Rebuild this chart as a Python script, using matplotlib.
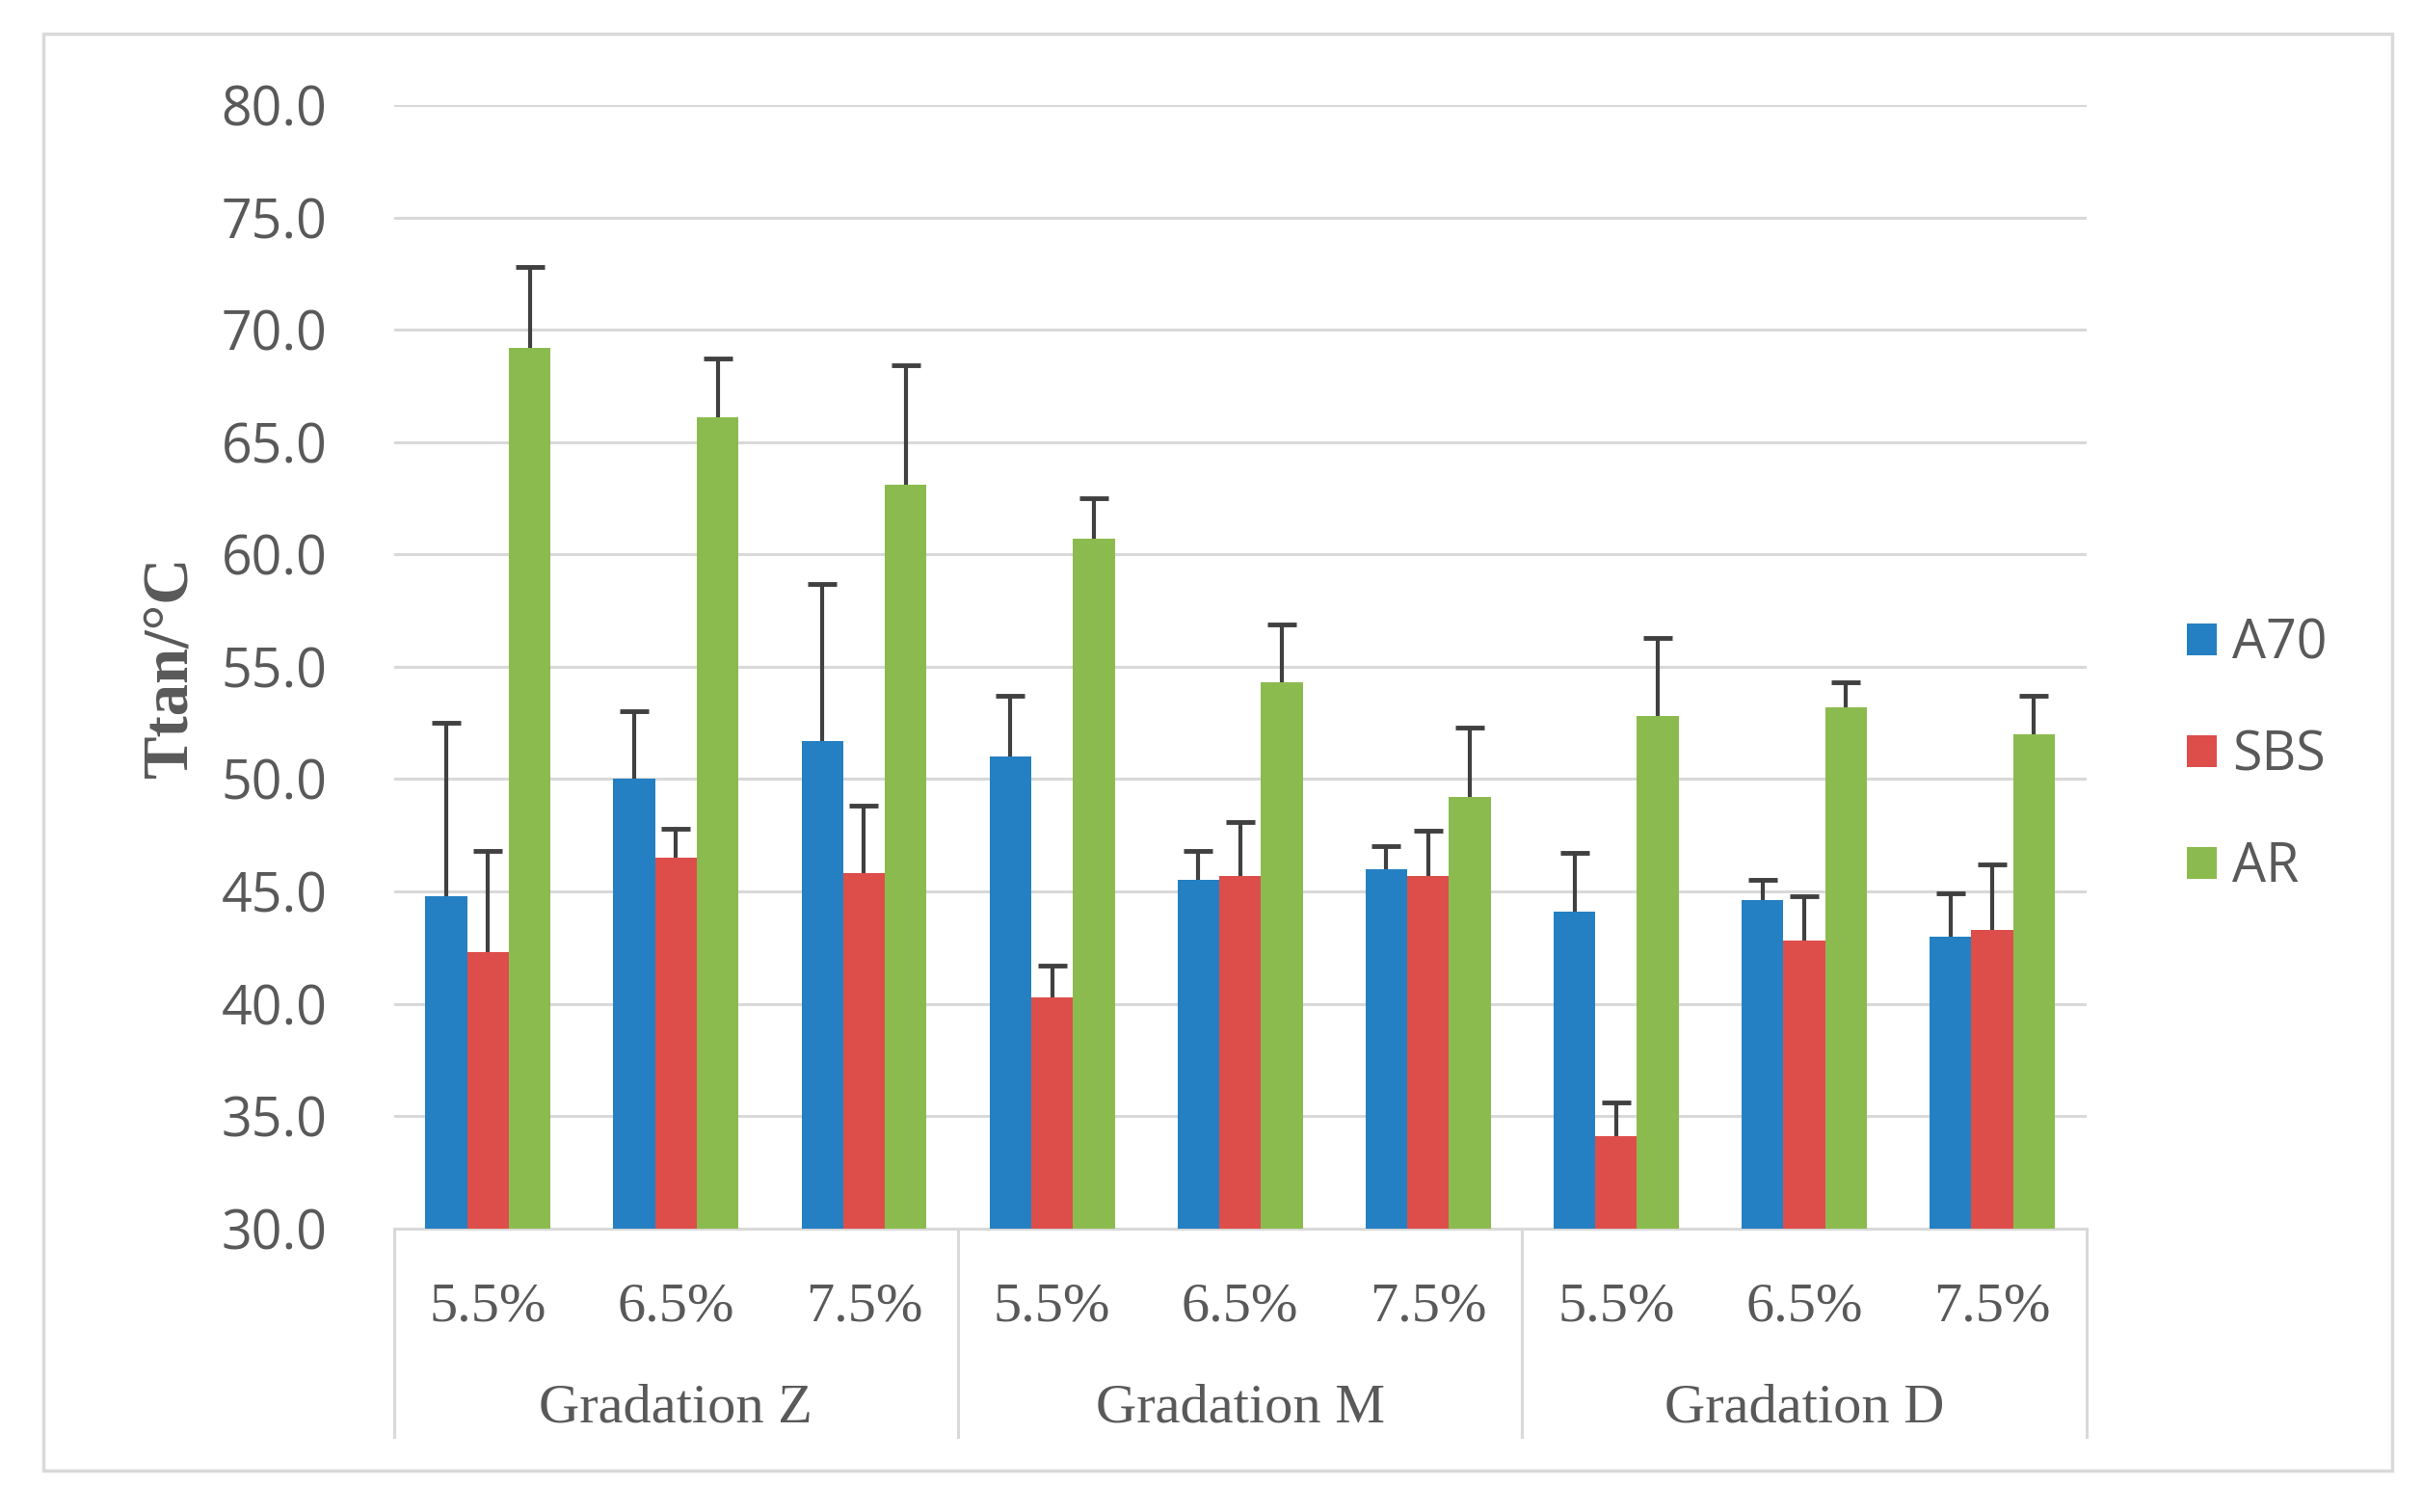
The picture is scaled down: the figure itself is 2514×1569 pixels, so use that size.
import matplotlib
matplotlib.use('Agg')
import matplotlib.pyplot as plt
from matplotlib.patches import Rectangle, Patch
import numpy as np

# values
groups = ["Gradation Z", "Gradation M", "Gradation D"]
contents = ["5.5%", "6.5%", "7.5%"]
series = ["A70", "SBS", "AR"]

a70 = [44.8, 50.0, 51.7, 51.0, 45.5, 46.0, 44.1, 44.6, 43.0]
sbs = [42.3, 46.5, 45.8, 40.3, 45.7, 45.7, 34.1, 42.8, 43.3]
ar = [69.2, 66.1, 63.1, 60.7, 54.3, 49.2, 52.8, 53.2, 52.0]

# upper error bar tops
a70_top = [52.5, 53.0, 58.7, 53.7, 46.8, 47.0, 46.7, 45.5, 44.9]
sbs_top = [46.8, 47.8, 48.8, 41.7, 48.1, 47.7, 35.6, 44.8, 46.2]
ar_top = [72.8, 68.7, 68.4, 62.5, 56.9, 52.3, 56.3, 54.3, 53.7]

colors = ["#2480C2", "#DD4E4B", "#8BBB4E"]

values = [a70, sbs, ar]
tops = [a70_top, sbs_top, ar_top]

fig = plt.figure(figsize=(25.14, 15.69), dpi=100)
ax = fig.add_axes([0.1626, 0.1876, 0.6984, 0.7429])

x = np.arange(len(a70))
width = 0.222
for i, (vals, top) in enumerate(zip(values, tops)):
    vals = np.array(vals)
    err = np.array(top) - vals
    pos = x + (i - 1) * width
    ax.bar(pos, vals - 30, width, bottom=30, color=colors[i], label=series[i], zorder=3)
    eb = ax.errorbar(pos, vals, yerr=[np.zeros_like(err), err], fmt='none',
                     ecolor="#404040", elinewidth=3, capsize=11, capthick=3.5, zorder=4)
    # only the upper cap is shown
    eb[1][0].set_visible(False)

ax.set_ylim(30, 80)
ax.set_xlim(-0.5, 8.5)
ax.set_yticks(np.arange(30, 81, 5))
ax.set_yticklabels([f"{v:.1f}" for v in np.arange(30, 81, 5)],
                   fontsize=40, color="#595959", family="Open Sans")
ax.yaxis.grid(True, color="#d9d9d9", linewidth=2.2, zorder=0)
ax.tick_params(axis='y', length=0, pad=50)
for s in ["top", "right", "left"]:
    ax.spines[s].set_visible(False)
ax.spines["bottom"].set_color("#d9d9d9")
ax.spines["bottom"].set_linewidth(2.2)

ax.set_xticks(x)
ax.set_xticklabels(contents * 3, fontsize=42, color="#595959", family="Liberation Serif")
ax.tick_params(axis='x', length=0, pad=40)

# category box below the axis
trans = ax.get_xaxis_transform()
for b in [-0.5, 2.5, 5.5, 8.5]:
    ax.plot([b, b], [0, -0.186], transform=trans, color="#d9d9d9", lw=2.2, clip_on=False)
for g, name in enumerate(groups):
    ax.text(g * 3 + 1, -0.16, name, transform=trans, ha='center', va='center',
            fontsize=42, color="#595959", family="Liberation Serif")

ax.set_ylabel("Ttan/°C", fontsize=48, fontweight='bold', family="Liberation Serif",
              color="#595959", labelpad=16)

handles = [Patch(facecolor=c, label=s) for c, s in zip(colors, series)]
ax.legend(handles=handles, loc='center left', bbox_to_anchor=(1.031, 0.4205), frameon=False,
          prop={'family': 'Open Sans', 'size': 40}, labelcolor="#595959",
          handlelength=0.55, handleheight=0.55, handletextpad=0.3, labelspacing=1.06)

fig.patches.append(Rectangle((0.0179, 0.0272), 0.9694, 0.9503, transform=fig.transFigure,
                             fill=False, edgecolor="#d9d9d9", lw=2.5))

fig.savefig("out.png", dpi=100)
plt.close(fig)
